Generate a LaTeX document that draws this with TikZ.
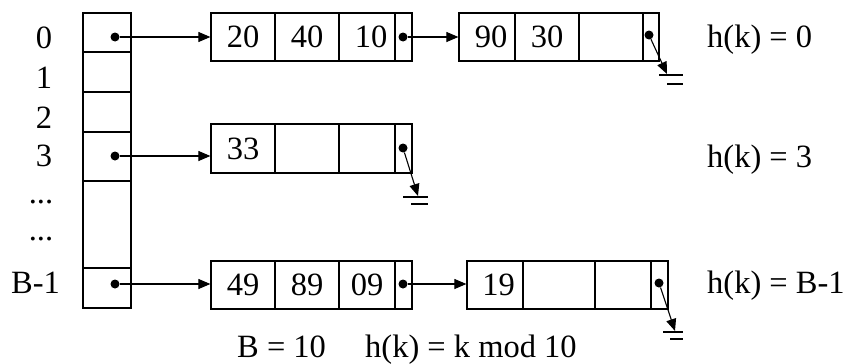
\documentclass[tikz,border=0pt]{standalone}
\usepackage{fontspec}
\setmainfont{Liberation Serif}
\usetikzlibrary{arrows.meta}

% one box of a record: name, x1, y1, x2, y2, text
\newcommand\slot[6]{%
  \node[cell,minimum width={(#4-#2)*1pt},minimum height={(#5-#3)*1pt}]
    (#1) at ({(#2+#4)/2},{(#3+#5)/2}) {#6};}

\begin{document}
\begin{tikzpicture}[x=1pt,y=-1pt,
  every node/.style={font=\fontsize{32.5}{38}\selectfont},
  cell/.style={draw,line width=1.2pt,inner sep=0pt,rectangle},
  dot/.style={circle,fill=black,inner sep=0pt,minimum size=9pt},
  ptr/.style={line width=1.1pt,-{Triangle[length=12pt,width=10pt]}},
  gnd/.style={line width=1.2pt},
  lbl/.style={anchor=base,inner sep=0pt},
  lblw/.style={anchor=base west,inner sep=0pt}]
\useasboundingbox (0,0) rectangle (844,364);

% bucket table
\slot{b0}{83}{13}{131}{52}{}
\slot{b1}{83}{52}{131}{92}{}
\slot{b2}{83}{92}{131}{132}{}
\slot{b3}{83}{132}{131}{181}{}
\slot{b4}{83}{181}{131}{268}{}
\slot{b5}{83}{268}{131}{308}{}

% bucket indices
\node[lbl] (i0) at (44,48) {0};
\node[lbl] (i1) at (44,88) {1};
\node[lbl] (i2) at (44,128) {2};
\node[lbl] (i3) at (44,166) {3};
\node[lbl] (i4) at (41,203) {...};
\node[lbl] (i5) at (41,240) {...};
\node[lbl] (i6) at (35.5,293) {B-1};

% chain of bucket 0
\slot{a1}{211}{13}{275}{61}{20}
\slot{a2}{275}{13}{339}{61}{40}
\slot{a3}{339}{13}{395}{61}{\hspace{8pt}10}
\slot{a4}{395}{13}{412}{61}{}
\slot{e1}{459}{13}{515}{61}{\hspace{8pt}90}
\slot{e2}{515}{13}{579}{61}{30}
\slot{e3}{579}{13}{643}{61}{}
\slot{e4}{643}{13}{659}{61}{}

% chain of bucket 3
\slot{c1}{211}{124}{275}{173}{33}
\slot{c2}{275}{124}{339}{173}{}
\slot{c3}{339}{124}{395}{173}{}
\slot{c4}{395}{124}{412}{173}{}

% chain of bucket B-1
\slot{f1}{211}{261}{275}{309}{49}
\slot{f2}{275}{261}{339}{309}{89}
\slot{f3}{339}{261}{395}{309}{09\hspace{8pt}}
\slot{f4}{395}{261}{412}{309}{}
\slot{h1}{467}{261}{523}{309}{\hspace{7pt}19}
\slot{h2}{523}{261}{595}{309}{}
\slot{h3}{595}{261}{651}{309}{}
\slot{h4}{651}{261}{668}{309}{}

% pointer dots
\node[dot] (p0) at (115,37) {};
\node[dot] (p3) at (115,156) {};
\node[dot] (p5) at (115,284) {};
\node[dot] (qa) at (403,37) {};
\node[dot] (qe) at (649,35) {};
\node[dot] (qc) at (403,148) {};
\node[dot] (qf) at (403,284) {};
\node[dot] (qh) at (659,283) {};

% null ends
\coordinate (ge) at (667,74);
\coordinate (gc) at (418,196);
\coordinate (gh) at (675,331);

% links
\draw[ptr] (p0) -- (p0 -| a1.west);
\draw[ptr] (p3) -- (p3 -| c1.west);
\draw[ptr] (p5) -- (p5 -| f1.west);
\draw[ptr] (qa) -- (qa -| e1.west);
\draw[ptr] (qf) -- (qf -| h1.west);
\draw[ptr] (qe) -- (ge);
\draw[ptr] (qc) -- (gc);
\draw[ptr] (qh) -- (gh);

% ground marks
\draw[gnd] (ge) ++(-8,1) -- ++(24,0) ++(-16,9) -- ++(16,0);
\draw[gnd] (gc) ++(-15,1) -- ++(25,0) ++(-17,7) -- ++(17,0);
\draw[gnd] (gh) ++(-12,1) -- ++(20,0) ++(-13,7) -- ++(13,0);

% hash values
\node[lblw] (v0) at (707,47) {h(k) = 0};
\node[lblw] (v3) at (707,167) {h(k) = 3};
\node[lblw] (v5) at (707,293) {h(k) = B-1};

% caption
\node[lblw] (s1) at (237,357) {B = 10};
\node[lblw] (s2) at (365,357) {h(k) = k mod 10};
\end{tikzpicture}
\end{document}
